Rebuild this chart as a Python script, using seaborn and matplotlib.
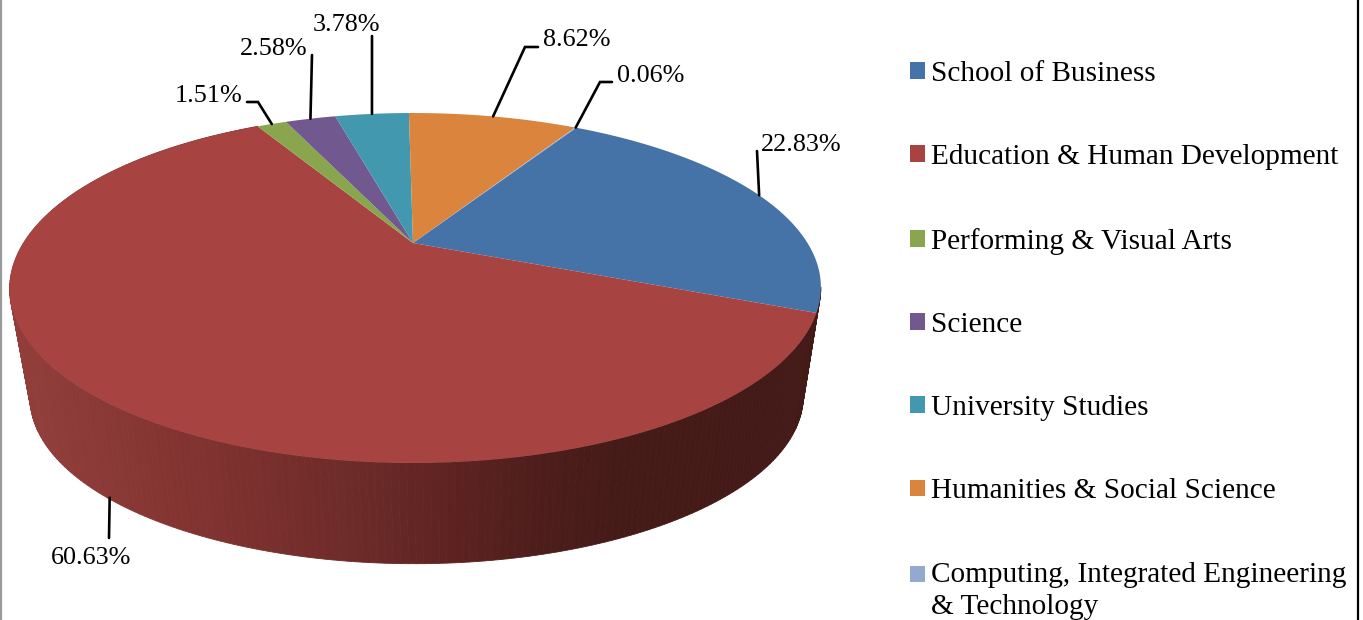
import numpy as np
import matplotlib
matplotlib.use("Agg")
import matplotlib.pyplot as plt
from matplotlib.path import Path
from matplotlib.transforms import Transform, Affine2D
from matplotlib.colors import to_rgb
import seaborn as sns

categories = ["School of Business", "Education & Human Development",
              "Performing & Visual Arts", "Science", "University Studies",
              "Humanities & Social Science",
              "Computing, Integrated Engineering\n& Technology"]
shares = [22.83, 60.63, 1.51, 2.58, 3.78, 8.62, 0.06]
slice_colors = ["#4572A7", "#A74442", "#89A54E", "#71588F", "#4198AF", "#DB843D", "#93A9CF"]

START = 59.5
CX, CY = 413.0, 243.0
K, A, B = 0.257, 163.4, 392.0
WALL_SCALE, WALL_DX, WALL_CY = 0.953, 1.5, 397.0
TOP_CY = 288.0

sns.set_theme(style="white")
plt.rcParams["font.family"] = ["Liberation Serif", "DejaVu Serif"]


class Perspective(Transform):
    input_dims = output_dims = 2
    is_affine = False
    has_inverse = False

    def transform_non_affine(self, values):
        values = np.asarray(values, float)
        u, v = values[:, 0], values[:, 1]
        w = 1 + K * v
        return np.column_stack([CX + B * u / w + 2.5 * (1 - v ** 2) * np.abs(u), CY - A * v / w])

    def transform_path_non_affine(self, path):
        polys = Affine2D().scale(3000).transform_path(path).to_polygons(closed_only=False)
        verts = np.vstack(polys) / 3000.0
        return Path(self.transform_non_affine(verts))


persp = Perspective()


def rim(theta_deg):
    t = np.radians(theta_deg)
    return persp.transform_non_affine(np.column_stack([np.cos(t), np.sin(t)]))


def lower(p):
    p = np.atleast_2d(p)
    return np.column_stack([CX + WALL_DX + WALL_SCALE * (p[:, 0] - CX),
                            WALL_CY + WALL_SCALE * (p[:, 1] - TOP_CY)])


fig = plt.figure(figsize=(13.63, 6.2), dpi=100, facecolor="white")
ax = fig.add_axes([0, 0, 1, 1])

palette = sns.color_palette(slice_colors)
wedges, _ = ax.pie(shares, startangle=START, counterclock=False, colors=palette,
                   wedgeprops=dict(linewidth=0, zorder=5))
for w in wedges:
    w.set_transform(persp + ax.transData)

ax.set_aspect("auto")
ax.set_xlim(0, 1363)
ax.set_ylim(620, 0)
ax.axis("off")

# side wall of the largest slice
cum = np.cumsum([0] + shares)
total = cum[-1]
ang = START - cum / total * 360
wall_x = [20, 150, 250, 370, 450, 550, 620, 820]
wall_c = np.array([to_rgb(c) for c in ["#913E3B", "#853532", "#7B302E", "#6A2A28",
                                       "#5E2321", "#4C1D1B", "#451B18", "#441A18"]])
th = np.linspace(ang[1] + 8, ang[2], 260)
top = rim(th)
bot = lower(top)
for i in range(len(th) - 1):
    xm = top[i:i + 2, 0].mean()
    col = [np.interp(xm, wall_x, wall_c[:, k]) for k in range(3)]
    ax.fill([top[i, 0], top[i + 1, 0], bot[i + 1, 0], bot[i, 0]],
            [top[i, 1], top[i + 1, 1], bot[i + 1, 1], bot[i, 1]],
            color=col, lw=0.6, zorder=2)

# data labels with leader lines (elbows in px, the anchor comes from the slice)
mid = (ang[:-1] + ang[1:]) / 2
anchors = rim(mid)
anchors[1] = lower(anchors[1])[0] + np.array([2.5, 0])
text_pos = [(761, 145), (51, 558), (175, 96), (240, 49), (313, 25), (543, 40), (617, 76)]
elbows = [[(757, 151)], [(109, 538)], [(258, 102), (247, 102)], [(312, 55)], [(372, 36)],
          [(525, 47), (538, 47)], [(600, 82), (612, 82)]]
for v, a, tp, el in zip(shares, anchors, text_pos, elbows):
    pts = np.array([a] + el)
    ax.plot(pts[:, 0], pts[:, 1], color="black", lw=1.9, solid_joinstyle="miter", zorder=6)
    ax.text(tp[0], tp[1], f"{v:.2f}%", fontsize=18.8, va="center", ha="left", color="black", zorder=7)

leg = ax.legend(wedges, categories, loc="upper left", bbox_to_anchor=(910, 61),
                bbox_transform=ax.transData, frameon=False, fontsize=21.1,
                handlelength=0.51, handleheight=0.51, handletextpad=0.2,
                labelspacing=1.955, borderpad=0, borderaxespad=0, labelcolor="black")
leg.get_texts()[-1].set_linespacing(1.33)
last = leg.legend_handles[-1]
last.set_y(last.get_y() + 12)

ax.plot([1, 1], [0, 620], color="#9A9A9A", lw=1.6, zorder=8)
ax.plot([1358, 1358], [0, 620], color="black", lw=1.6, zorder=8)

fig.savefig("out.png", dpi=100, facecolor="white")
